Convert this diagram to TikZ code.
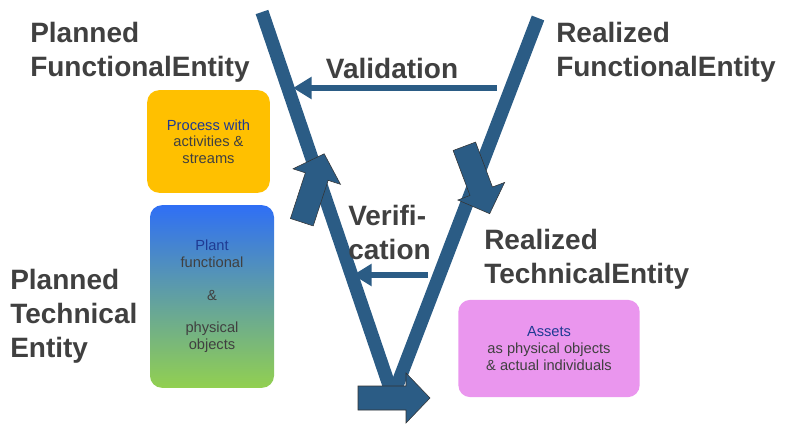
\documentclass[tikz,border=0pt]{standalone}
\usepackage{fontspec}
\setmainfont{Liberation Sans}
\usepackage{tikz}
\usetikzlibrary{arrows.meta, positioning}
\definecolor{vblue}{HTML}{2B5C85}
\definecolor{vtext}{HTML}{404040}
\definecolor{vlabel}{HTML}{1F3A93}
\definecolor{vgreen}{HTML}{92D050}

\newcommand{\blockarrow}[2]{%
  \begin{scope}[shift={#1}, rotate=#2]
    \fill[vblue, draw=black!80, thin] (-36,-12) -- (12,-12) -- (12,-25) -- (36,0) -- (12,25) -- (12,12) -- (-36,12) -- cycle;
  \end{scope}}

\begin{document}
\begin{tikzpicture}[
  x=0.75pt, y=-0.75pt,
  title/.style={font=\bfseries\fontsize{21}{25.5}\selectfont, text=vtext, align=left, inner sep=0pt},
  box/.style={rounded corners=9pt, draw=none, align=center, font=\fontsize{11}{12.5}\selectfont, text=vtext, inner sep=2pt},
  leg/.style={draw=vblue, line width=10pt},
  arr/.style={-{Triangle[length=14pt, width=16pt]}, draw=vblue, line width=4.5pt},
]
\useasboundingbox (0,0) rectangle (798,434);

% V
\coordinate (ltop) at (262,12);
\coordinate (bot) at (390,388);
\coordinate (rtop) at (538,18);
\draw[leg] (ltop) -- (bot);
\draw[leg] (rtop) -- (396,388);
\blockarrow{(313,188)}{71.9}
\blockarrow{(477,180)}{-69.4}
\blockarrow{(394,398)}{0}

% Headings
\node[title, anchor=west] (pfe) at (30,52) {Planned\\FunctionalEntity};
\node[title, anchor=west] (rfe) at (556,52) {Realized\\FunctionalEntity};
\node[title, anchor=west] (pte) at (10,316) {Planned\\Technical\\Entity};
\node[title, anchor=west] (rte) at (484,259) {Realized\\TechnicalEntity};
\node[title] (val) at (392,68) {Validation};
\node[title, anchor=west] (ver) at (348,232) {Verifi-\\cation};

% Boxes
\node[box, fill={rgb,255:red,255;green,192;blue,0}, minimum width=92pt, minimum height=77pt] (proc) at (208.5,141.5)
  {\textcolor{vlabel}{Process with}\\activities \&\\streams};
\node[box, top color={rgb,255:red,47;green,111;blue,245}, middle color=vgreen!70!blue!90!white, bottom color=vgreen, minimum width=93pt, minimum height=137pt] (plant) at (212,296.5)
  {\textcolor{vlabel}{Plant}\\functional\\[12pt]\&\\[12pt]physical\\objects};
\node[box, fill={rgb,255:red,234;green,150;blue,238}, minimum width=136pt, minimum height=73pt] (assets) at (549,348.5)
  {\textcolor{vlabel}{Assets}\\as physical objects\\\& actual individuals};

% Feedback arrows
\coordinate (vstart) at (497,88);
\coordinate (vend) at (293,88);
\coordinate (fstart) at (428,275);
\coordinate (fend) at (353,275);
\draw[arr] (vstart) -- (vend);
\draw[arr] (fstart) -- (fend);
\end{tikzpicture}
\end{document}
